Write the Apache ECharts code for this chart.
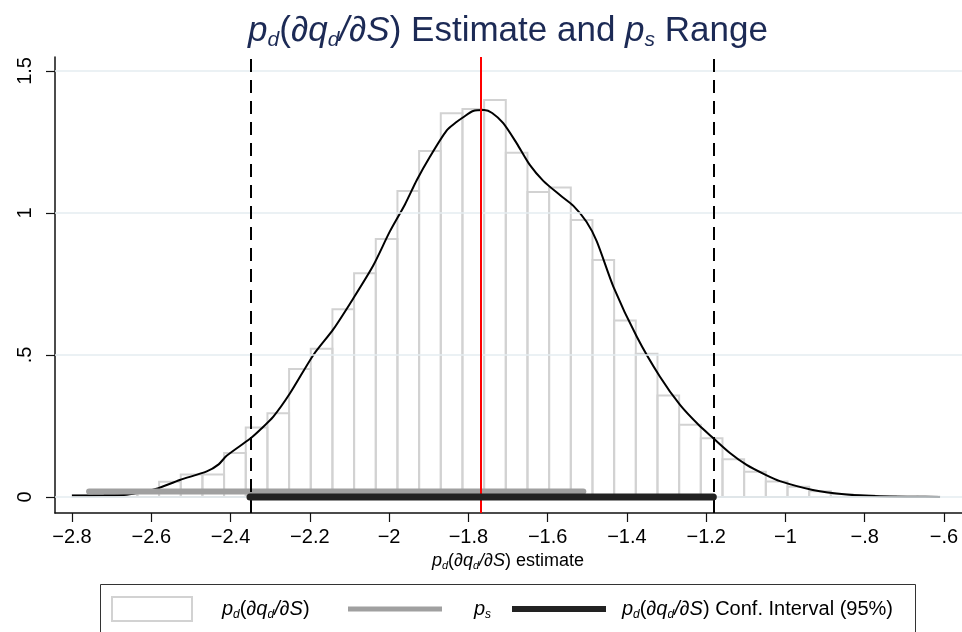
<!DOCTYPE html>
<html><head><meta charset="utf-8">
<script src="https://cdn.jsdelivr.net/npm/echarts@6/dist/echarts.min.js"></script>
<style>html,body{margin:0;padding:0;background:#fff}#chart{width:962px;height:632px}</style>
</head><body><div id="chart"></div>
<script>
// ---- data ----
const binStart = -2.799;
const binWidth = 0.05467;
const binHeights = [0.006, 0.010, 0.014, 0.024, 0.054, 0.079, 0.079, 0.155, 0.245, 0.295,
  0.451, 0.522, 0.661, 0.788, 0.908, 1.077, 1.218, 1.351, 1.366, 1.398,
  1.212, 1.074, 1.090, 0.975, 0.834, 0.621, 0.504, 0.357, 0.254, 0.207,
  0.133, 0.089, 0.055, 0.036, 0.020, 0.011, 0.006, 0.002, 0.001, 0.001];
const densityX = [-2.800, -2.720, -2.662, -2.620, -2.582, -2.528, -2.460, -2.430, -2.410, -2.351,
  -2.326, -2.292, -2.250, -2.191, -2.141, -2.090, -2.040, -1.998, -1.960, -1.930,
  -1.897, -1.855, -1.830, -1.813, -1.788, -1.760, -1.740, -1.712, -1.678, -1.645,
  -1.611, -1.569, -1.535, -1.502, -1.476, -1.434, -1.375, -1.317, -1.266, -1.220,
  -1.182, -1.140, -1.098, -1.050, -1.014, -0.931, -0.846, -0.762, -0.680, -0.610];
const densityY = [0.005, 0.006, 0.008, 0.018, 0.031, 0.060, 0.090, 0.115, 0.145, 0.205,
  0.236, 0.283, 0.365, 0.500, 0.590, 0.700, 0.815, 0.935, 1.030, 1.116,
  1.198, 1.290, 1.320, 1.337, 1.359, 1.362, 1.352, 1.316, 1.245, 1.169,
  1.113, 1.063, 1.025, 0.969, 0.900, 0.740, 0.564, 0.424, 0.324, 0.255,
  0.207, 0.155, 0.113, 0.078, 0.056, 0.025, 0.009, 0.003, 0.001, 0.000];
const psRange = [-2.757, -1.51];
const psLevel = 0.019;
const ciRange = [-2.351, -1.182];
const ciLevel = 0;
const pointEstimate = -1.766;
const xTicks = [-2.8, -2.6, -2.4, -2.2, -2.0, -1.8, -1.6, -1.4, -1.2, -1.0, -0.8, -0.6];
const xTickLabels = ['\u22122.8', '\u22122.6', '\u22122.4', '\u22122.2', '\u22122', '\u22121.8', '\u22121.6', '\u22121.4', '\u22121.2', '\u22121', '\u2212.8', '\u2212.6'];
const yTicks = [0, 0.5, 1, 1.5];
const yTickLabels = ['0', '.5', '1', '1.5'];
const xMin = -2.8429, xMax = -0.5546, yMin = -0.0563, yMax = 1.549;

// ---- helpers ----
const FONT = '"Liberation Sans", Arial, sans-serif';
function rich(F, color) {
  const H = Math.round(F * 1.15);
  const sub = Math.round(F * 0.6);
  return {
    n: { fontSize: F, fontFamily: FONT, fill: color, color: color, lineHeight: H },
    i: { fontSize: F, fontFamily: FONT, fontStyle: 'italic', fill: color, color: color, lineHeight: H },
    s: { fontSize: sub, fontFamily: FONT, fontStyle: 'italic', fill: color, color: color, lineHeight: Math.round(F * 0.63), verticalAlign: 'bottom' }
  };
}
const PD = '{i|p}{s|d}{n|(}{i|\u2202q}{s|d}{i|/\u2202S}{n|)}';
const PS = '{i|p}{s|s}';
function labelFor(ticks, labels, v) {
  for (let k = 0; k < ticks.length; k++) if (Math.abs(ticks[k] - v) < 1e-6) return labels[k];
  return '';
}

const chart = echarts.init(document.getElementById('chart'), null, { renderer: 'canvas' });
const bins = binHeights.map((h, k) => [binStart + k * binWidth, binStart + (k + 1) * binWidth, h]);

const option = {
  animation: false,
  backgroundColor: '#ffffff',
  grid: { left: 55, right: 0, top: 57, bottom: 119, containLabel: false },
  xAxis: {
    type: 'value', min: xMin, max: xMax,
    axisLine: { show: true, onZero: false, lineStyle: { color: '#111', width: 1.5 } },
    axisTick: { show: true, customValues: xTicks, length: 9, lineStyle: { color: '#111', width: 1.2 } },
    axisLabel: { show: true, customValues: xTicks, margin: 14, color: '#000', fontSize: 20, fontFamily: FONT,
      formatter: v => labelFor(xTicks, xTickLabels, v) },
    splitLine: { show: false }
  },
  yAxis: {
    type: 'value', min: yMin, max: yMax,
    axisLine: { show: true, onZero: false, lineStyle: { color: '#111', width: 1.5 } },
    axisTick: { show: true, customValues: yTicks, length: 9, lineStyle: { color: '#111', width: 1.2 } },
    axisLabel: { show: true, customValues: yTicks, rotate: 90, margin: 20, color: '#000', fontSize: 20, fontFamily: FONT,
      formatter: v => labelFor(yTicks, yTickLabels, v) },
    splitLine: { show: false }
  },
  series: [
    { // gridlines
      type: 'line', data: [], silent: true, z: 1,
      markLine: { silent: true, symbol: 'none', label: { show: false },
        lineStyle: { color: '#e5edf0', width: 1.5, type: 'solid' },
        data: yTicks.map(v => ({ yAxis: v })) }
    },
    { // histogram
      type: 'custom', z: 2, silent: true,
      data: bins,
      encode: { x: [0, 1], y: 2 },
      renderItem: function (params, api) {
        const p0 = api.coord([api.value(0), 0]);
        const p1 = api.coord([api.value(1), api.value(2)]);
        return { type: 'rect', shape: { x: p0[0], y: p1[1], width: p1[0] - p0[0], height: p0[1] - p1[1] },
          style: { fill: 'none', stroke: '#d2d2d2', lineWidth: 2 } };
      }
    },
    { // density
      type: 'line', z: 3, showSymbol: false, smooth: 0.25, silent: true,
      data: densityX.map((x, k) => [x, densityY[k]]),
      lineStyle: { color: '#000', width: 2 }
    },
    { // ps range
      type: 'line', z: 4, showSymbol: false, silent: true,
      data: [[psRange[0], psLevel], [psRange[1], psLevel]],
      lineStyle: { color: '#a0a0a0', width: 6, cap: 'round' }
    },
    { // confidence interval
      type: 'line', z: 5, showSymbol: false, silent: true,
      data: [[ciRange[0], ciLevel], [ciRange[1], ciLevel]],
      lineStyle: { color: '#222', width: 7, cap: 'round' }
    },
    { // reference lines
      type: 'line', data: [], z: 6, silent: true,
      markLine: { silent: true, symbol: 'none', label: { show: false },
        data: [
          { xAxis: ciRange[0], lineStyle: { color: '#000', width: 2, type: [13, 8] } },
          { xAxis: ciRange[1], lineStyle: { color: '#000', width: 2, type: [13, 8] } },
          { xAxis: pointEstimate, lineStyle: { color: '#ff0000', width: 2, type: 'solid' } }
        ] }
    }
  ],
  graphic: [
    { type: 'text', left: null, z: 10, silent: true,
      x: 508, y: 31,
      style: { text: PD + '{n| Estimate and }' + PS + '{n| Range}', rich: rich(35, '#1c2a55'), align: 'center', verticalAlign: 'middle' } },
    { type: 'text', z: 10, silent: true, x: 508, y: 561,
      style: { text: PD + '{n| estimate}', rich: rich(18, '#000'), align: 'center', verticalAlign: 'middle' } },
    { type: 'rect', z: 10, silent: true, shape: { x: 100.5, y: 584.5, width: 815, height: 60 },
      style: { fill: '#fff', stroke: '#333', lineWidth: 1 } },
    { type: 'rect', z: 11, silent: true, shape: { x: 112, y: 597, width: 80, height: 24 },
      style: { fill: '#fff', stroke: '#d2d2d2', lineWidth: 2 } },
    { type: 'line', z: 11, silent: true, shape: { x1: 348, y1: 609, x2: 442, y2: 609 },
      style: { stroke: '#a0a0a0', lineWidth: 5 } },
    { type: 'line', z: 11, silent: true, shape: { x1: 512, y1: 609, x2: 606, y2: 609 },
      style: { stroke: '#222', lineWidth: 6 } },
    { type: 'text', z: 11, silent: true, x: 222, y: 609,
      style: { text: PD, rich: rich(20, '#000'), align: 'left', verticalAlign: 'middle' } },
    { type: 'text', z: 11, silent: true, x: 474, y: 609,
      style: { text: PS, rich: rich(20, '#000'), align: 'left', verticalAlign: 'middle' } },
    { type: 'text', z: 11, silent: true, x: 622, y: 609,
      style: { text: PD + '{n| Conf. Interval (95%)}', rich: rich(20, '#000'), align: 'left', verticalAlign: 'middle' } }
  ]
};
chart.setOption(option);
</script>
</body></html>
